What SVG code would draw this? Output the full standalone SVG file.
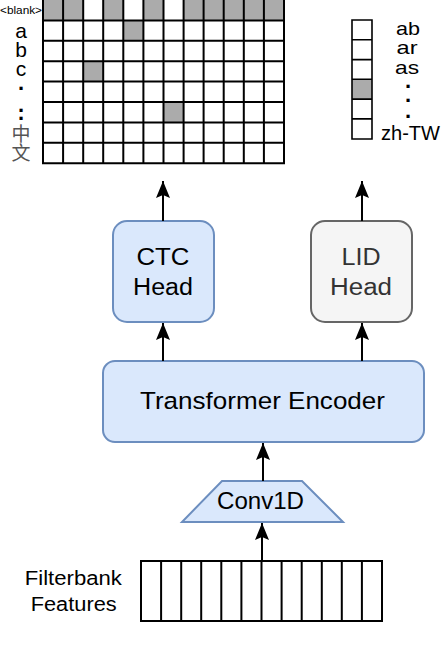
<svg xmlns="http://www.w3.org/2000/svg" width="446" height="652" viewBox="0 0 446 652">
<style>
.t{font-family:"Liberation Sans",Arial,sans-serif;fill:#000}
.lab{font-size:21px;text-anchor:middle}
.big{font-size:23px;text-anchor:middle}
.dot{font-size:22px;font-weight:bold;text-anchor:middle}
.g{stroke:#000;stroke-width:2;fill:none}
.gray{fill:#ababab}
.blue{fill:#dae8fc;stroke:#6c8ebf;stroke-width:2}
.grey{fill:#f5f5f5;stroke:#666666;stroke-width:2}
.edge{stroke:#000;stroke-width:2;fill:none}
</style>
<defs>
<marker id="ah" markerUnits="userSpaceOnUse" markerWidth="19" markerHeight="15" viewBox="0 0 19 15" refX="18" refY="7.5" orient="auto">
<path d="M18,7.5 L1,0.5 L4,7.5 L1,14.5 Z" fill="#000"/>
</marker>
</defs>

<g id="ctc-output-grid">
<rect class="gray" x="43" y="0" width="40.2" height="20.4"/>
<rect class="gray" x="103.2" y="0" width="20.1" height="20.4"/>
<rect class="gray" x="143.4" y="0" width="20.1" height="20.4"/>
<rect class="gray" x="183.6" y="0" width="100.4" height="20.4"/>
<rect class="gray" x="123.3" y="20.4" width="20.1" height="20.4"/>
<rect class="gray" x="83.2" y="61.2" width="20.1" height="20.4"/>
<rect class="gray" x="163.5" y="102" width="20.1" height="20.4"/>
<path class="g" d="M43,-2V163.2H284V-2 M63.1,0V163.2 M83.2,0V163.2 M103.2,0V163.2 M123.3,0V163.2 M143.4,0V163.2 M163.5,0V163.2 M183.6,0V163.2 M203.6,0V163.2 M223.7,0V163.2 M243.8,0V163.2 M263.9,0V163.2 M43,20.4H284 M43,40.8H284 M43,61.2H284 M43,81.6H284 M43,102H284 M43,122.4H284 M43,142.8H284"/>
<text class="t" x="0" y="13.5" style="font-size:11.5px" textLength="42" lengthAdjust="spacingAndGlyphs">&lt;blank&gt;</text>
<text class="t lab" x="21" y="38">a</text>
<text class="t lab" x="21" y="57">b</text>
<text class="t lab" x="21" y="76">c</text>
<text class="t dot" x="21" y="89.5">.</text>
<text class="t dot" x="21" y="111.5">.</text>
<text class="t dot" x="21" y="119.5">.</text>
<text x="21" y="141" style="font-family:'Noto Sans CJK SC',sans-serif;font-size:19px;text-anchor:middle;fill:#555">中</text>
<text x="21" y="160" style="font-family:'Noto Sans CJK SC',sans-serif;font-size:19px;text-anchor:middle;fill:#555">文</text>
</g>

<g id="lid-output-column">
<rect class="gray" x="352" y="79.3" width="20" height="19.8"/>
<path d="M352,20H372V139H352Z M352,39.8H372 M352,59.6H372 M352,79.3H372 M352,99.1H372 M352,118.9H372" stroke="#000" stroke-width="1.6" fill="none"/>
<text class="t" x="408" y="35" style="font-size:19px;text-anchor:middle" textLength="24" lengthAdjust="spacingAndGlyphs">ab</text>
<text class="t" x="407" y="54" style="font-size:19px;text-anchor:middle" textLength="21" lengthAdjust="spacingAndGlyphs">ar</text>
<text class="t" x="407" y="74" style="font-size:19px;text-anchor:middle" textLength="24" lengthAdjust="spacingAndGlyphs">as</text>
<text class="t dot" x="408" y="87.5">.</text>
<text class="t dot" x="408" y="101.5">.</text>
<text class="t dot" x="408" y="117.5">.</text>
<text class="t" x="410.5" y="140" style="font-size:20px;text-anchor:middle" textLength="59" lengthAdjust="spacingAndGlyphs">zh-TW</text>
</g>

<g id="ctc-head">
<rect class="blue" x="113" y="221" width="101" height="101" rx="14"/>
<text class="t big" x="163" y="265" textLength="53" lengthAdjust="spacingAndGlyphs">CTC</text>
<text class="t big" x="163" y="295" textLength="60" lengthAdjust="spacingAndGlyphs">Head</text>
</g>

<g id="lid-head">
<rect class="grey" x="311" y="221" width="101" height="101" rx="14"/>
<text class="t big" x="361" y="265" style="fill:#333" textLength="39" lengthAdjust="spacingAndGlyphs">LID</text>
<text class="t big" x="361" y="295" style="fill:#333" textLength="62" lengthAdjust="spacingAndGlyphs">Head</text>
</g>

<g id="transformer-encoder">
<rect class="blue" x="103" y="361" width="321" height="81" rx="12"/>
<text class="t" x="262.5" y="409" style="font-size:24.5px;text-anchor:middle" textLength="245" lengthAdjust="spacingAndGlyphs">Transformer Encoder</text>
</g>

<g id="conv1d">
<path class="blue" d="M222,481H302L343,522H182Z"/>
<text class="t big" x="260.5" y="509" textLength="87" lengthAdjust="spacingAndGlyphs">Conv1D</text>
</g>

<g id="filterbank-features">
<path class="g" d="M141,561H382V621H141Z M161.1,561V621 M181.2,561V621 M201.2,561V621 M221.3,561V621 M241.4,561V621 M261.5,561V621 M281.6,561V621 M301.7,561V621 M321.8,561V621 M341.8,561V621 M361.9,561V621"/>
<text class="t" x="73.3" y="585" style="font-size:19.5px;text-anchor:middle" textLength="97" lengthAdjust="spacingAndGlyphs">Filterbank</text>
<text class="t" x="73.7" y="611" style="font-size:19.5px;text-anchor:middle" textLength="86" lengthAdjust="spacingAndGlyphs">Features</text>
</g>

<g id="connectors">
<path class="edge" d="M262,561V523" marker-end="url(#ah)"/>
<path class="edge" d="M263,481V443" marker-end="url(#ah)"/>
<path class="edge" d="M163,361V323" marker-end="url(#ah)"/>
<path class="edge" d="M362,361V323" marker-end="url(#ah)"/>
<path class="edge" d="M163,221V181" marker-end="url(#ah)"/>
<path class="edge" d="M362,221V181" marker-end="url(#ah)"/>
</g>
</svg>
